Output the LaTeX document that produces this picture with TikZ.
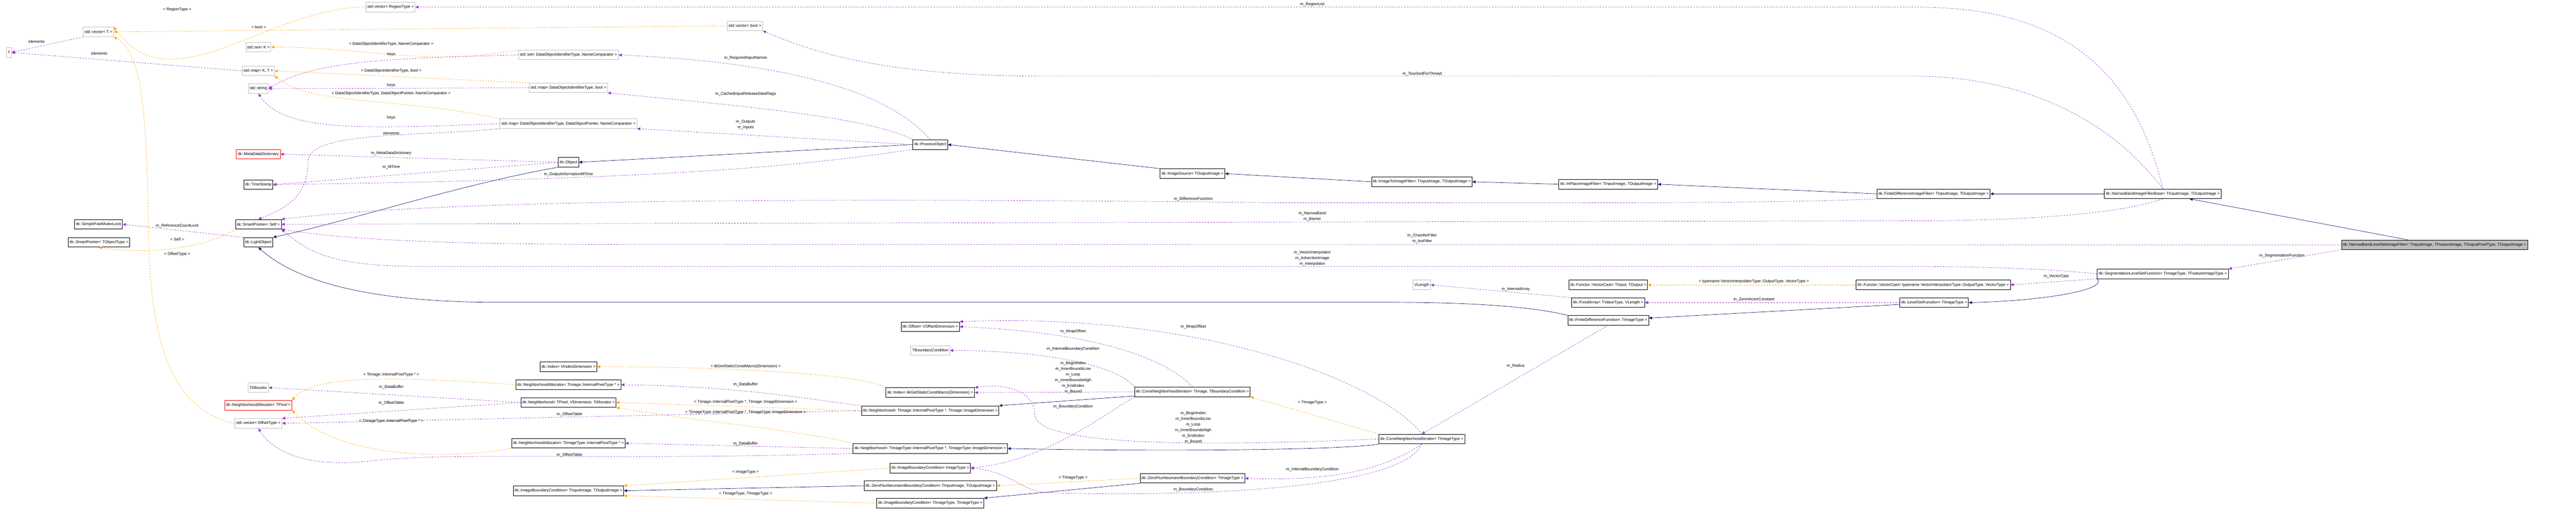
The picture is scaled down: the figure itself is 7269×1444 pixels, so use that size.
\documentclass[tikz,border=0pt]{standalone}
\usepackage{fontspec}
\setmainfont{Liberation Sans}
\usetikzlibrary{arrows.meta}
\definecolor{usecol}{HTML}{9A32CD}
\definecolor{tplcol}{HTML}{FFA500}
\definecolor{inhcol}{HTML}{191970}
\definecolor{extcol}{HTML}{BFBFBF}
\tikzset{every picture/.style={line width=0.5pt}}
\tikzset{
  cls/.style={draw=black, fill=white, line width=0.6pt, inner xsep=2pt, minimum height=13.5pt, font=\fontsize{5.6}{6.5}\selectfont},
  ext/.style={cls, draw=extcol},
  bad/.style={cls, draw=red},
  cur/.style={cls, fill=extcol},
  lbl/.style={inner sep=0pt, align=center, font=\fontsize{5.6}{8}\selectfont},
  use/.style={draw=usecol, dash pattern=on 2pt off 2pt, -{Triangle[length=4.5pt,width=4pt]}},
  tmpl/.style={draw=tplcol, dash pattern=on 2pt off 2pt, -{Triangle[length=4.5pt,width=4pt]}},
  inh/.style={draw=inhcol, -{Triangle[length=4.5pt,width=4pt]}}
}
\begin{document}
\begin{tikzpicture}[x=0.5pt,y=0.5pt,yscale=-1,xscale=1]
\useasboundingbox (0,0) rectangle (7269,1444);

% Classes
\node[ext] (vecRegion) at (1102,20) {std::vector< RegionType >};
\node[ext] (vecT) at (278,90) {std::vector< T >};
\node[ext] (T) at (25,148) {T};
\node[ext] (setK) at (729,133) {std::set< K >};
\node[ext] (setDO) at (1604,155) {std::set< DataObjectIdentifierType, NameComparator >};
\node[ext] (mapKT) at (729,200) {std::map< K, T >};
\node[ext] (strng) at (729,250) {std::string};
\node[ext] (mapBool) at (1604,248) {std::map< DataObjectIdentifierType, bool >};
\node[ext] (mapDP) at (1604,349) {std::map< DataObjectIdentifierType, DataObjectPointer, NameComparator >};
\node[ext] (vecBool) at (2102,73) {std::vector< bool >};
\node[bad] (meta) at (729,435) {itk::MetaDataDictionary};
\node[cls] (object) at (1604,458) {itk::Object};
\node[cls] (stamp) at (729,521) {itk::TimeStamp};
\node[cls] (procObj) at (2625,408) {itk::ProcessObject};
\node[cls] (imgSrc) at (3365,490) {itk::ImageSource< TOutputImage >};
\node[cls] (i2i) at (4012,513) {itk::ImageToImageFilter< TInputImage, TOutputImage >};
\node[cls] (inPlace) at (4538,520) {itk::InPlaceImageFilter< TInputImage, TOutputImage >};
\node[cls] (fdif) at (5456,547) {itk::FiniteDifferenceImageFilter< TInputImage, TOutputImage >};
\node[cls] (nbifb) at (6103,547) {itk::NarrowBandImageFilterBase< TInputImage, TOutputImage >};
\node[cur] (nbls) at (6870,691) {itk::NarrowBandLevelSetImageFilter< TInputImage, TFeatureImage, TOutputPixelType, TOutputImage >};
\node[cls] (spSelf) at (729,633) {itk::SmartPointer< Self >};
\node[cls] (mutex) at (278,633) {itk::SimpleFastMutexLock};
\node[cls] (spT) at (279,684) {itk::SmartPointer< TObjectType >};
\node[cls] (light) at (729,684) {itk::LightObject};
\node[cls] (slsf) at (6103,773) {itk::SegmentationLevelSetFunction< TImageType, TFeatureImageType >};
\node[cls] (vcTyp) at (5455,804) {itk::Functor::VectorCast< typename VectorInterpolatorType::OutputType, VectorType >};
\node[cls] (vcIn) at (4538,804) {itk::Functor::VectorCast< TInput, TOutput >};
\node[ext] (vlen) at (4012,804) {VLength};
\node[cls] (fixArr) at (4538,854) {itk::FixedArray< TValueType, VLength >};
\node[cls] (lsf) at (5458,854) {itk::LevelSetFunction< TImageType >};
\node[cls] (fdf) at (4538,904) {itk::FiniteDifferenceFunction< TImageType >};
\node[cls] (offset) at (2625,922) {itk::Offset< VOffsetDimension >};
\node[ext] (tbc) at (2625,989) {TBoundaryCondition};
\node[cls] (idxMacro) at (2625,1108) {itk::Index< itkGetStaticConstMacro(Dimension) >};
\node[cls] (cniTI) at (3365,1106) {itk::ConstNeighborhoodIterator< TImage, TBoundaryCondition >};
\node[cls] (nbhTI) at (2625,1159) {itk::Neighborhood< TImage::InternalPixelType *, TImage::ImageDimension >};
\node[cls] (nbhTT) at (2625,1266) {itk::Neighborhood< TImageType::InternalPixelType *, TImageType::ImageDimension >};
\node[cls] (ibcIT) at (2625,1321) {itk::ImageBoundaryCondition< ImageType >};
\node[cls] (zfnIO) at (2625,1371) {itk::ZeroFluxNeumannBoundaryCondition< TInputImage, TOutputImage >};
\node[cls] (zfnTT) at (3365,1350) {itk::ZeroFluxNeumannBoundaryCondition< TImageType >};
\node[cls] (ibcTT) at (2625,1420) {itk::ImageBoundaryCondition< TImageType, TImageType >};
\node[cls] (cniTT) at (4012,1239) {itk::ConstNeighborhoodIterator< TImageType >};
\node[cls] (index) at (1604,1035) {itk::Index< VIndexDimension >};
\node[cls] (naTI) at (1604,1086) {itk::NeighborhoodAllocator< TImage::InternalPixelType * >};
\node[ext] (tAlloc) at (729,1094) {TAllocator};
\node[bad] (naPix) at (729,1144) {itk::NeighborhoodAllocator< TPixel >};
\node[cls] (nbh) at (1604,1136) {itk::Neighborhood< TPixel, VDimension, TAllocator >};
\node[ext] (vecOff) at (729,1195) {std::vector< OffsetType >};
\node[cls] (naTT) at (1604,1251) {itk::NeighborhoodAllocator< TImageType::InternalPixelType * >};
\node[cls] (ibcIO) at (1604,1385) {itk::ImageBoundaryCondition< TInputImage, TOutputImage >};

% Template instances
\draw[tmpl] (vecRegion.west) to[out=180,in=55] (vecT.north east);
\draw[tmpl] (vecBool.west) -- (vecT.east);
\draw[tmpl] (setDO.north west) to[out=170,in=0] (setK.east);
\draw[tmpl] (mapBool.north west) -- (mapKT.east);
\draw[tmpl] (mapDP.north west) .. controls (1100,270) and (880,300) .. (mapKT.south east);
\draw[tmpl] (vecOff.west) .. controls (500,1160) and (430,1000) .. (420,700) .. controls (415,300) and (400,150) .. (vecT.south east);
\draw[tmpl] (spSelf.south west) .. controls (580,700) and (420,720) .. (spT.south);
\draw[tmpl] (naTI.west) .. controls (1100,1060) and (880,1060) .. (naPix.north east);
\draw[tmpl] (naTT.south west) .. controls (1250,1300) and (950,1290) .. (naPix.south east);
\draw[tmpl] (idxMacro.north west) .. controls (2450,1060) and (2100,1035) .. (index.east);
\draw[tmpl] (nbhTI.west) -- (nbh.east);
\draw[tmpl] (nbhTT.north west) .. controls (2300,1220) and (1900,1180) .. (nbh.south east);
\draw[tmpl] (ibcIT.west) -- (ibcIO.north east);
\draw[tmpl] (ibcTT.west) -- (ibcIO.south east);
\draw[tmpl] (zfnTT.west) -- (zfnIO.east);
\draw[tmpl] (cniTT.north west) -- (cniTI.south east);
\draw[tmpl] (vcTyp.west) -- (vcIn.east);

% Inheritance
\draw[inh] (object.south west) .. controls (1300,520) and (1000,620) .. (light.north east);
\draw[inh] (procObj.west) -- (object.east);
\draw[inh] (imgSrc.north west) -- (procObj.east);
\draw[inh] (i2i.west) -- (imgSrc.east);
\draw[inh] (inPlace.west) -- (i2i.east);
\draw[inh] (fdif.west) -- (inPlace.east);
\draw[inh] (nbifb.west) -- (fdif.east);
\draw[inh] (nbls) -- (nbifb);
\draw[inh] (fdf.north west) .. controls (4300,860) and (4100,853) .. (3900,853) -- (1400,853) .. controls (1000,853) and (820,780) .. (light.south);
\draw[inh] (lsf) -- (fdf);
\draw[inh] (slsf.south west) .. controls (5950,820) and (5750,850) .. (lsf.east);
\draw[inh] (cniTI) -- (nbhTI.north east);
\draw[inh] (cniTT.south west) .. controls (3800,1270) and (3300,1275) .. (nbhTT.east);
\draw[inh] (zfnIO.west) -- (ibcIO.east);
\draw[inh] (zfnTT.south west) -- (ibcTT.north east);

% Members
\draw[use] (vecT.south west) -- (T.east);
\draw[use] (mapKT.west) -- (T.east);
\draw[use] (setDO.west) .. controls (1100,165) and (890,170) .. (strng.east);
\draw[use] (mapBool.west) -- (strng.east);
\draw[use] (mapDP.west) .. controls (1000,365) and (800,370) .. (strng.south);
\draw[use] (mapDP.south west) .. controls (1200,385) and (880,370) .. (870,450) .. controls (870,560) and (800,590) .. (spSelf.north);
\draw[use] (object.west) -- (meta.east);
\draw[use] (object.west) -- (stamp.east);
\draw[use] (procObj.south west) .. controls (2300,460) and (2000,505) .. (stamp.east);
\draw[use] (procObj.west) -- (mapDP.south east);
\draw[use] (procObj.north) .. controls (2500,250) and (2200,175) .. (setDO.east);
\draw[use] (procObj.north west) .. controls (2450,330) and (2100,300) .. (mapBool.south east);
\draw[use] (light.north west) -- (mutex.east);
\draw[use] (nbifb.north) .. controls (6000,100) and (5700,20) .. (5400,20) -- (vecRegion.east);
\draw[use] (nbifb.north) .. controls (5950,330) and (5700,215) .. (5400,215) -- (2950,215) .. controls (2500,215) and (2300,150) .. (vecBool.south east);
\draw[use] (fdif.south west) .. controls (5000,575) and (4500,572) .. (3600,572) .. controls (2000,555) and (1200,570) .. (spSelf.north east);
\draw[use] (nbifb.south) .. controls (5950,615) and (5600,623) .. (5400,623) -- (spSelf.east);
\draw[use] (nbls.west) -- (1800,690) .. controls (1300,690) and (1000,680) .. (spSelf.south east);
\draw[use] (slsf.west) .. controls (5800,760) and (5600,752) .. (5400,752) -- (1200,752) .. controls (950,752) and (880,720) .. (spSelf.south east);
\draw[use] (slsf.south west) -- (vcTyp.east);
\draw[use] (nbls.south west) -- (slsf.north east);
\draw[use] (lsf.west) -- (fixArr.east);
\draw[use] (fixArr.north west) -- (vlen.east);
\draw[use] (fdf.south) -- (cniTT.north);
\draw[use] (cniTI.north) .. controls (3280,1000) and (3050,935) .. (offset.east);
\draw[use] (cniTT.north) .. controls (3900,1080) and (3400,880) .. (offset.north east);
\draw[use] (cniTI.north west) .. controls (3150,1030) and (2950,990) .. (tbc.east);
\draw[use] (cniTI.west) -- (idxMacro.east);
\draw[use] (cniTT.west) .. controls (3400,1260) and (2920,1260) .. (2920,1170) .. controls (2920,1110) and (2850,1080) .. (idxMacro.north east);
\draw[use] (cniTI.south west) .. controls (3100,1180) and (2950,1300) .. (ibcIT.east);
\draw[use] (cniTT.south) .. controls (3950,1400) and (3200,1400) .. (2950,1390) .. controls (2880,1385) and (2850,1330) .. (ibcIT.east);
\draw[use] (cniTT.south) .. controls (3900,1330) and (3750,1358) .. (zfnTT.east);
\draw[use] (nbh.west) -- (tAlloc.east);
\draw[use] (nbh.west) -- (vecOff.north east);
\draw[use] (nbhTI.north west) .. controls (2300,1130) and (2100,1090) .. (naTI.east);
\draw[use] (nbhTI.west) -- (vecOff.east);
\draw[use] (nbhTT.west) -- (naTT.east);
\draw[use] (nbhTT.south west) .. controls (1700,1300) and (1300,1275) .. (1050,1300) .. controls (900,1320) and (780,1290) .. (vecOff.south);

% Text Nodes
\node[lbl] (tRegion) at (500,27) {< RegionType >};
\node[lbl] (tBool) at (730,76) {< bool >};
\node[lbl] (tSet) at (1104,124) {< DataObjectIdentifierType, NameComparator >};
\node[lbl] (tMapBool) at (1104,200) {< DataObjectIdentifierType, bool >};
\node[lbl] (tMapDP) at (1104,264) {< DataObjectIdentifierType, DataObjectPointer, NameComparator >};
\node[lbl] (tOffset) at (500,718) {< OffsetType >};
\node[lbl] (tSelf) at (500,675) {< Self >};
\node[lbl] (tNaTI) at (1104,1057) {< TImage::InternalPixelType * >};
\node[lbl] (tNaTT) at (1104,1188) {< TImageType::InternalPixelType * >};
\node[lbl] (tIdx) at (2104,1034) {< itkGetStaticConstMacro(Dimension) >};
\node[lbl] (tNbhTI) at (2104,1135) {< TImage::InternalPixelType *, TImage::ImageDimension >};
\node[lbl] (tNbhTT) at (2104,1164) {< TImageType::InternalPixelType *, TImageType::ImageDimension >};
\node[lbl] (tIbcIT) at (2104,1332) {< ImageType >};
\node[lbl] (tIbcTT) at (2104,1393) {< TImageType, TImageType >};
\node[lbl] (tZfn) at (3028,1348) {< TImageType >};
\node[lbl] (tCni) at (3703,1136) {< TImageType >};
\node[lbl] (tVc) at (4949,795) {< typename VectorInterpolatorType::OutputType, VectorType >};
\node[lbl] (mElemA) at (103,117) {elements};
\node[lbl] (mElemB) at (280,151) {elements};
\node[lbl] (mKeysA) at (1104,153) {keys};
\node[lbl] (mKeysB) at (1104,241) {keys};
\node[lbl] (mKeysC) at (1104,332) {keys};
\node[lbl] (mElemC) at (1104,376) {elements};
\node[lbl] (mMeta) at (1104,432) {m\_MetaDataDictionary};
\node[lbl] (mMTime) at (1104,472) {m\_MTime};
\node[lbl] (mOutTime) at (1604,492) {m\_OutputInformationMTime};
\node[lbl] (mLock) at (500,638) {m\_ReferenceCountLock};
\node[lbl] (mReq) at (2104,164) {m\_RequiredInputNames};
\node[lbl] (mCached) at (2104,265) {m\_CachedInputReleaseDataFlags};
\node[lbl] (mInOut) at (2104,352) {m\_Outputs\\m\_Inputs};
\node[lbl] (mDiff) at (3367,562) {m\_DifferenceFunction};
\node[lbl] (mRegion) at (3703,13) {m\_RegionList};
\node[lbl] (mTouched) at (4013,208) {m\_TouchedForThread};
\node[lbl] (mBand) at (3703,611) {m\_NarrowBand\\m\_Barrier};
\node[lbl] (mChamfer) at (4013,673) {m\_ChamferFilter\\m\_IsoFilter};
\node[lbl] (mInterp) at (3703,729) {m\_VectorInterpolator\\m\_AdvectionImage\\m\_Interpolator};
\node[lbl] (mIntArr) at (4277,816) {m\_InternalArray};
\node[lbl] (mZero) at (4949,846) {m\_ZeroVectorConstant};
\node[lbl] (mRadius) at (4277,1033) {m\_Radius};
\node[lbl] (mIntBcA) at (3703,1325) {m\_InternalBoundaryCondition};
\node[lbl] (mVecCast) at (5802,780) {m\_VectorCast};
\node[lbl] (mSegFn) at (6439,722) {m\_SegmentationFunction};
\node[lbl] (mWrapA) at (3028,935) {m\_WrapOffset};
\node[lbl] (mWrapB) at (3367,922) {m\_WrapOffset};
\node[lbl] (mIntBcB) at (3028,985) {m\_InternalBoundaryCondition};
\node[lbl] (mBoundsA) at (3028,1066) {m\_BeginIndex\\m\_InnerBoundsLow\\m\_Loop\\m\_InnerBoundsHigh\\m\_EndIndex\\m\_Bound};
\node[lbl] (mBcA) at (3028,1148) {m\_BoundaryCondition};
\node[lbl] (mBoundsB) at (3367,1206) {m\_BeginIndex\\m\_InnerBoundsLow\\m\_Loop\\m\_InnerBoundsHigh\\m\_EndIndex\\m\_Bound};
\node[lbl] (mBufA) at (2104,1085) {m\_DataBuffer};
\node[lbl] (mBufB) at (2104,1253) {m\_DataBuffer};
\node[lbl] (mBcB) at (3367,1382) {m\_BoundaryCondition};
\node[lbl] (mBufC) at (1104,1093) {m\_DataBuffer};
\node[lbl] (mOffA) at (1104,1137) {m\_OffsetTable};
\node[lbl] (mOffB) at (1607,1169) {m\_OffsetTable};
\node[lbl] (mOffC) at (1607,1284) {m\_OffsetTable};

\end{tikzpicture}
\end{document}
